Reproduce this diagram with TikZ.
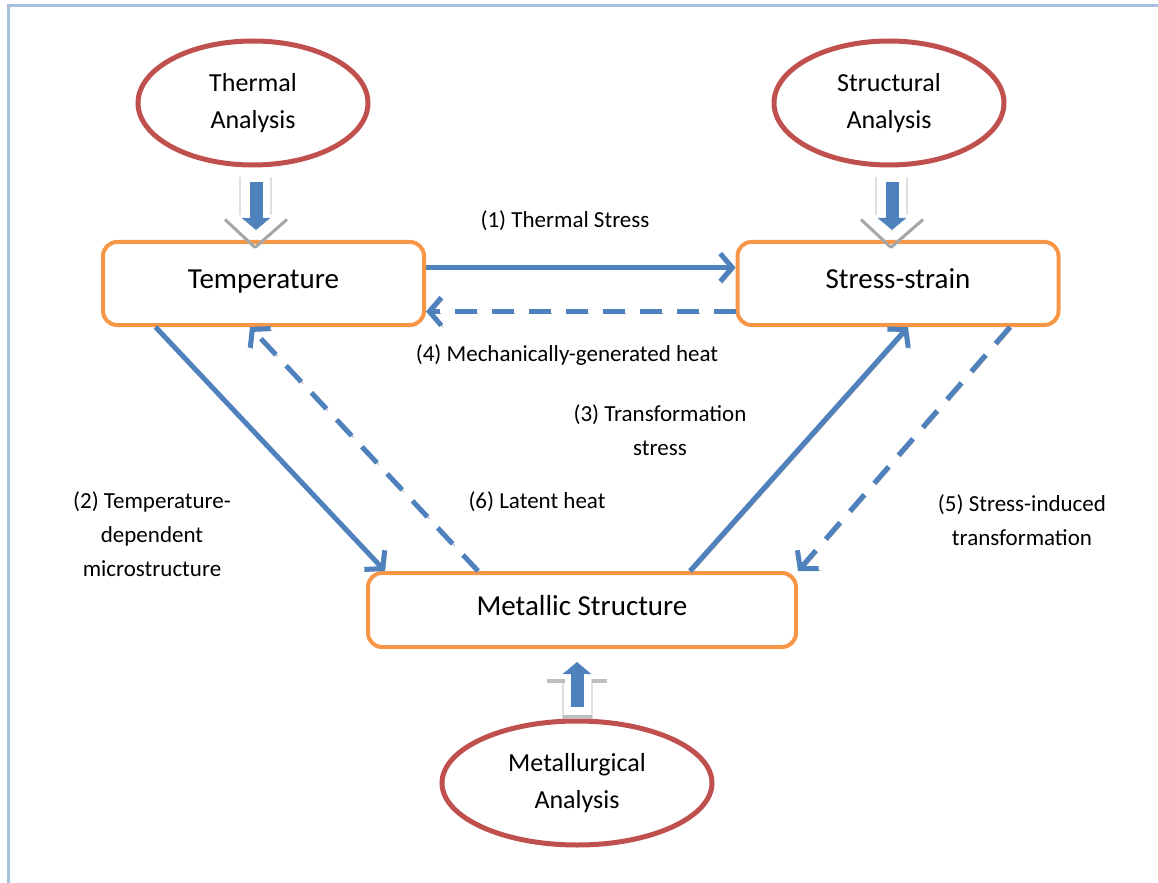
\documentclass[tikz,border=0pt]{standalone}
\usepackage{fontspec}
\setmainfont{Carlito}
\usetikzlibrary{positioning,shapes.geometric,arrows.meta}
\definecolor{boxorange}{RGB}{247,150,70}
\definecolor{ovalred}{RGB}{192,80,77}
\definecolor{linkblue}{RGB}{79,129,189}
\definecolor{pageblue}{RGB}{167,191,222}

\begin{document}
\begin{tikzpicture}[x=0.5pt, y=-0.5pt, >={Straight Barb[length=6pt,width=14pt]}]
  \tikzstyle{quantity}=[draw=boxorange, line width=2pt, rounded corners=7pt, minimum width=160.5pt, minimum height=41.5pt, text height=0.7em, text depth=0.2em, font=\fontsize{14.5}{17}\selectfont]
  \tikzstyle{analysis}=[draw=ovalred, ellipse, line width=2.5pt, minimum width=115pt, minimum height=62pt, align=center, font=\fontsize{13}{18.5}\selectfont]
  \tikzstyle{coupling}=[draw=linkblue, line width=2.5pt, ->, preaction={draw=black!35, transform canvas={shift={(0.9pt,-0.9pt)}}}]
  \tikzstyle{back}=[draw=linkblue, line width=2.5pt, ->, dash pattern=on 11pt off 7.5pt, preaction={draw=black!35, dash pattern=on 11pt off 7.5pt, transform canvas={shift={(0.9pt,-0.9pt)}}}]
  \tikzstyle{feed}=[draw=linkblue, line width=6.5pt, -{Triangle[length=6pt,width=14pt]}]
  \tikzstyle{lbl}=[align=center, font=\fontsize{11.5}{17}\selectfont]
  \useasboundingbox (0,0) rectangle (1158,883);
  \draw[pageblue, line width=1.5pt] (8,883) -- (8,6) -- (1158,6);
  % analyses
  \node[analysis] (thermal) at (253,103) {Thermal\\Analysis};
  \node[analysis] (structural) at (889,103) {Structural\\Analysis};
  \node[analysis, minimum width=135pt] (metallurgical) at (577,783) {Metallurgical\\Analysis};
  % coupled fields
  \node[quantity] (temp) at (263.5,283.5) {Temperature};
  \node[quantity] (stress) at (898,283.5) {Stress-strain};
  \node[quantity, minimum width=214pt, minimum height=37pt] (metal) at (582,610) {Metallic Structure};
  % hollow block arrows behind the inputs
  \begin{scope}[shift={(thermal.south)}]
    \draw[gray!25, line width=1pt] (-13,10) -- (-13,48) (18,10) -- (18,48);
    \draw[gray!70, line width=1.5pt] (-28,52) -- (2,80) (2,80) -- (34,52);
  \end{scope}
  \begin{scope}[shift={(structural.south)}]
    \draw[gray!25, line width=1pt] (-13,10) -- (-13,48) (18,10) -- (18,48);
    \draw[gray!70, line width=1.5pt] (-28,52) -- (2,80) (2,80) -- (34,52);
  \end{scope}
  \begin{scope}[shift={(metallurgical.north)}]
    \draw[gray!25, line width=1pt] (-14,-40) -- (-14,0) (15,-40) -- (15,0);
    \draw[gray!50, line width=2pt] (-30,-38) -- (-12,-38) (15,-38) -- (30,-38) (-14,-2) -- (15,-2);
  \end{scope}
  \draw[feed, shorten <=7.5pt, shorten >=5pt] ([xshift=1.5pt]thermal.south) -- ([xshift=1.5pt]thermal.south |- temp.north);
  \draw[feed, shorten <=7.5pt, shorten >=5pt] ([xshift=1.5pt]structural.south) -- ([xshift=1.5pt]structural.south |- stress.north);
  \draw[feed, shorten <=6pt, shorten >=6.5pt] (metallurgical.north) -- (metallurgical.north |- metal.south);
  % couplings
  \draw[coupling] ([yshift=8pt]temp.east) -- ([yshift=8pt]temp.east -| stress.west);
  \draw[back] ([yshift=-14pt]stress.west) -- ([yshift=-14pt]stress.west -| temp.east);
  \draw[coupling] ([xshift=-54pt]temp.south) -- ([xshift=-98.5pt]metal.north);
  \draw[back] ([xshift=-52pt]metal.north) -- ([xshift=-6.75pt]temp.south);
  \draw[coupling] ([xshift=54pt]metal.north) -- ([xshift=5pt]stress.south);
  \draw[back] ([xshift=56pt]stress.south) -- (metal.north east);
  % labels
  \node[lbl] (lblA) at (565,221) {(1) Thermal Stress};
  \node[lbl] (lblD) at (567,355) {(4) Mechanically-generated heat};
  \node[lbl] (lblC) at (660,430) {(3) Transformation\\stress};
  \node[lbl] (lblB) at (152,534) {(2) Temperature-\\dependent\\microstructure};
  \node[lbl] (lblF) at (537,502) {(6) Latent heat};
  \node[lbl] (lblE) at (1022,520) {(5) Stress-induced\\transformation};
\end{tikzpicture}
\end{document}
